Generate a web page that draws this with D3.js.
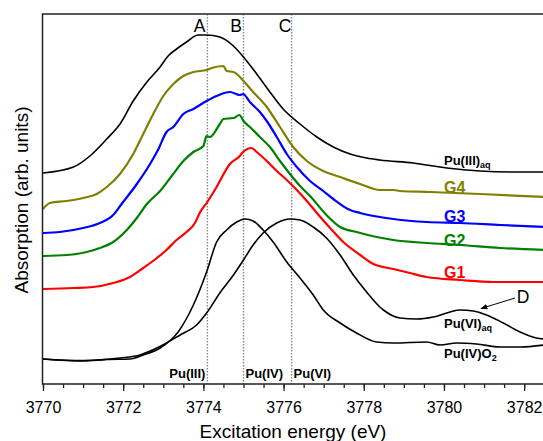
<!DOCTYPE html>
<html><head><meta charset="utf-8">
<script src="https://cdn.jsdelivr.net/npm/d3@7"></script>
<style>body{margin:0;background:#fff}svg{display:block}text{font-family:"Liberation Sans",Arial,sans-serif}</style>
</head><body>
<svg id="c" width="543" height="441"></svg>
<script>
// ---- data (energy eV, absorption arb. units) ----
const puIIIaq = [[3770.0,2.11],[3770.76,2.17],[3771.17,2.28],[3771.59,2.45],[3771.92,2.60],[3772.25,2.83],[3772.59,3.02],[3772.92,3.17],[3773.12,3.28],[3773.33,3.35],[3773.58,3.42],[3773.87,3.49],[3774.08,3.49],[3774.41,3.47],[3774.75,3.38],[3775.0,3.27],[3775.33,3.10],[3775.66,2.92],[3775.99,2.75],[3776.41,2.60],[3776.83,2.47],[3777.24,2.37],[3777.66,2.30],[3778.07,2.26],[3778.40,2.24],[3779.23,2.21],[3780.07,2.16],[3780.90,2.13],[3781.73,2.12],[3782.5,2.12]];
const g4 = [[3770.0,1.75],[3770.17,1.81],[3770.59,1.83],[3771.0,1.86],[3771.34,1.90],[3771.59,1.97],[3771.92,2.10],[3772.25,2.30],[3772.5,2.50],[3772.75,2.70],[3773.0,2.88],[3773.25,3.00],[3773.5,3.08],[3773.75,3.12],[3774.08,3.14],[3774.25,3.165],[3774.5,3.18],[3774.58,3.13],[3774.75,3.12],[3775.0,3.03],[3775.24,2.92],[3775.58,2.77],[3775.91,2.57],[3776.24,2.37],[3776.58,2.23],[3776.99,2.13],[3777.41,2.07],[3777.91,2.00],[3778.40,1.94],[3778.74,1.94],[3778.90,1.93],[3779.65,1.92],[3780.90,1.90],[3782.5,1.87]];
const g3 = [[3770.0,1.51],[3770.42,1.52],[3771.0,1.56],[3771.42,1.61],[3771.75,1.69],[3771.96,1.80],[3772.34,2.00],[3772.67,2.20],[3772.88,2.35],[3773.08,2.52],[3773.25,2.57],[3773.5,2.70],[3773.75,2.75],[3774.08,2.83],[3774.33,2.88],[3774.66,2.92],[3774.91,2.89],[3774.99,2.90],[3775.16,2.82],[3775.41,2.72],[3775.58,2.63],[3775.83,2.47],[3776.08,2.30],[3776.33,2.17],[3776.66,2.03],[3776.99,1.93],[3777.24,1.85],[3777.66,1.74],[3777.91,1.71],[3778.40,1.67],[3778.74,1.65],[3779.57,1.62],[3780.40,1.61],[3781.40,1.59],[3782.5,1.57]];
const g2 = [[3770.0,1.28],[3770.59,1.29],[3771.09,1.32],[3771.42,1.36],[3771.75,1.42],[3772.09,1.54],[3772.34,1.66],[3772.59,1.80],[3772.92,1.93],[3773.21,2.08],[3773.5,2.23],[3773.75,2.32],[3774.0,2.38],[3774.08,2.48],[3774.16,2.47],[3774.41,2.60],[3774.5,2.65],[3774.75,2.66],[3774.9,2.69],[3775.0,2.63],[3775.16,2.57],[3775.41,2.47],[3775.66,2.37],[3775.91,2.23],[3776.16,2.10],[3776.41,1.98],[3776.66,1.88],[3777.07,1.69],[3777.41,1.57],[3777.82,1.52],[3778.32,1.47],[3778.74,1.44],[3779.57,1.41],[3780.40,1.39],[3781.40,1.36],[3782.5,1.34]];
const g1 = [[3770.0,0.95],[3770.76,0.96],[3771.25,0.97],[3771.75,1.01],[3772.17,1.07],[3772.5,1.16],[3772.84,1.26],[3773.08,1.34],[3773.33,1.44],[3773.58,1.52],[3773.79,1.61],[3773.92,1.72],[3774.08,1.81],[3774.33,1.97],[3774.66,2.20],[3774.91,2.28],[3774.99,2.32],[3775.2,2.36],[3775.33,2.32],[3775.58,2.23],[3775.83,2.13],[3776.08,2.04],[3776.33,1.94],[3776.58,1.83],[3776.83,1.71],[3777.16,1.56],[3777.49,1.42],[3777.91,1.29],[3778.24,1.20],[3778.74,1.15],[3779.15,1.11],[3779.57,1.07],[3780.40,1.04],[3781.23,1.02],[3782.5,1.02]];
const puIVO2 = [[3770.0,0.25],[3771.0,0.23],[3771.6,0.245],[3772.17,0.25],[3772.5,0.29],[3772.92,0.36],[3773.37,0.52],[3773.75,0.79],[3774.08,1.12],[3774.33,1.42],[3774.58,1.54],[3774.83,1.62],[3775.04,1.65],[3775.24,1.63],[3775.49,1.54],[3775.74,1.42],[3776.08,1.22],[3776.41,1.06],[3776.74,0.89],[3776.99,0.74],[3777.41,0.61],[3777.82,0.51],[3778.32,0.42],[3778.74,0.41],[3779.57,0.42],[3779.9,0.39],[3780.32,0.41],[3780.81,0.40],[3781.40,0.37],[3781.90,0.37],[3782.5,0.39]];
const puVIaq = [[3770.0,0.25],[3771.0,0.235],[3771.92,0.26],[3772.42,0.29],[3772.84,0.36],[3773.42,0.49],[3773.83,0.59],[3774.08,0.71],[3774.41,0.91],[3774.75,1.09],[3775.0,1.24],[3775.24,1.39],[3775.49,1.51],[3775.83,1.61],[3776.16,1.65],[3776.41,1.64],[3776.74,1.57],[3777.07,1.46],[3777.41,1.29],[3777.74,1.09],[3778.07,0.92],[3778.40,0.77],[3778.49,0.74],[3778.90,0.66],[3779.32,0.65],[3779.73,0.67],[3780.15,0.72],[3780.40,0.74],[3780.73,0.73],[3781.06,0.69],[3781.48,0.61],[3781.90,0.52],[3782.31,0.46],[3782.5,0.45]];
const xTicks = [3770, 3772, 3774, 3776, 3778, 3780, 3782];
const markers = [3774.1, 3775.0, 3776.2];
const markerTop = ["A", "B", "C"];
const markerBottom = ["Pu(III)", "Pu(IV)", "Pu(VI)"];

const svg = d3.select("#c");
const L = 42.5, T = 14, R = 543, B = 384;
const x = d3.scaleLinear().domain([3770, 3782.5]).range([43, 544.2]);
const y = d3.scaleLinear().domain([0, 3.70]).range([B, T]);

svg.append("defs").append("clipPath").attr("id","clip").append("rect")
  .attr("x", L).attr("y", T).attr("width", R - L).attr("height", B - T);

// dotted marker lines
svg.append("g").selectAll("line").data(markers).join("line")
  .attr("x1", d => x(d)).attr("x2", d => x(d)).attr("y1", T).attr("y2", B)
  .attr("stroke", "#888").attr("stroke-width", 1.4).attr("stroke-dasharray", "1.5,1.5");

const line = d3.line().x(d => x(d[0])).y(d => y(d[1])).curve(d3.curveMonotoneX);
const series = [
  {d: puVIaq, c: "#000", w: 1.6},
  {d: puIVO2, c: "#000", w: 1.6},
  {d: g1, c: "#ff0000", w: 2.2},
  {d: g2, c: "#008000", w: 2.2},
  {d: g3, c: "#0000ff", w: 2.2},
  {d: g4, c: "#808000", w: 2.2},
  {d: puIIIaq, c: "#000", w: 1.6}
];
svg.append("g").attr("clip-path","url(#clip)").selectAll("path").data(series).join("path")
  .attr("d", s => line(s.d)).attr("fill","none").attr("stroke", s => s.c)
  .attr("stroke-width", s => s.w).attr("stroke-linejoin","round");

// axes
const minor = d3.range(3770, 3782.51, 0.5);
const gx = svg.append("g").attr("transform", `translate(0,${B})`);
gx.call(d3.axisBottom(x).tickValues(minor).tickSize(4).tickFormat(""));
gx.select(".domain").remove();
gx.selectAll("line").attr("stroke","#222").attr("stroke-width",1.3);
const gx2 = svg.append("g").attr("transform", `translate(0,${B})`);
gx2.call(d3.axisBottom(x).tickValues(xTicks).tickSize(7).tickPadding(11).tickFormat(d3.format("d")));
gx2.select(".domain").remove();
gx2.selectAll("line").attr("stroke","#222").attr("stroke-width",1.3);
gx2.selectAll("text").attr("font-size", 16).attr("fill","#000").attr("font-family","Liberation Sans, Arial, sans-serif");

// frame
svg.append("path").attr("d", `M${R+2},${T}H${L}V${B}H${R+2}`).attr("fill","none")
  .attr("stroke","#222").attr("stroke-width",1.5);

// axis titles
svg.append("text").attr("x", 293).attr("y", 438).attr("text-anchor","middle")
  .attr("font-size", 19).text("Excitation energy (eV)");
svg.append("text").attr("transform","translate(28,200) rotate(-90)").attr("text-anchor","middle")
  .attr("font-size", 19).text("Absorption (arb. units)");

// A B C
const topX = [199.5, 236, 285];
svg.append("g").selectAll("text").data(markerTop).join("text")
  .attr("x", (d,i) => topX[i]).attr("y", 31.5).attr("text-anchor","middle")
  .attr("font-size", 17.5).text(d => d);

// bottom labels
svg.append("g").selectAll("text").data(markerBottom).join("text")
  .attr("x", (d,i) => i === 0 ? x(markers[0]) - 2 : x(markers[i]) + 2)
  .attr("y", 378).attr("text-anchor", (d,i) => i === 0 ? "end" : "start")
  .attr("font-size", 13).attr("font-weight","bold").text(d => d);

// series labels
function subLabel(tx, ty, main, sub) {
  const t = svg.append("text").attr("x", tx).attr("y", ty).attr("font-size", 13).attr("font-weight","bold");
  t.append("tspan").text(main);
  t.append("tspan").attr("font-size", 9).attr("dy", 3).text(sub);
}
subLabel(444, 165, "Pu(III)", "aq");
subLabel(444, 328, "Pu(VI)", "aq");
subLabel(444, 358, "Pu(IV)O", "2");
const gLabels = [["G4", 193, "#808000"], ["G3", 222, "#0000ff"], ["G2", 246, "#008000"], ["G1", 278, "#ff0000"]];
svg.append("g").selectAll("text").data(gLabels).join("text")
  .attr("x", 444).attr("y", d => d[1]).attr("fill", d => d[2])
  .attr("font-size", 16).attr("font-weight","bold").text(d => d[0]);

// D with arrow
svg.append("text").attr("x", 523).attr("y", 303).attr("text-anchor","middle").attr("font-size", 17.5).text("D");
svg.append("defs").append("marker").attr("id","ah").attr("viewBox","0 0 10 10").attr("refX",9).attr("refY",5)
  .attr("markerWidth",7).attr("markerHeight",7).attr("orient","auto")
  .append("path").attr("d","M0,1L10,5L0,9z").attr("fill","#000");
svg.append("line").attr("x1", 515).attr("y1", 298).attr("x2", 481).attr("y2", 308.5)
  .attr("stroke","#000").attr("stroke-width",1).attr("marker-end","url(#ah)");
</script>
</body></html>
